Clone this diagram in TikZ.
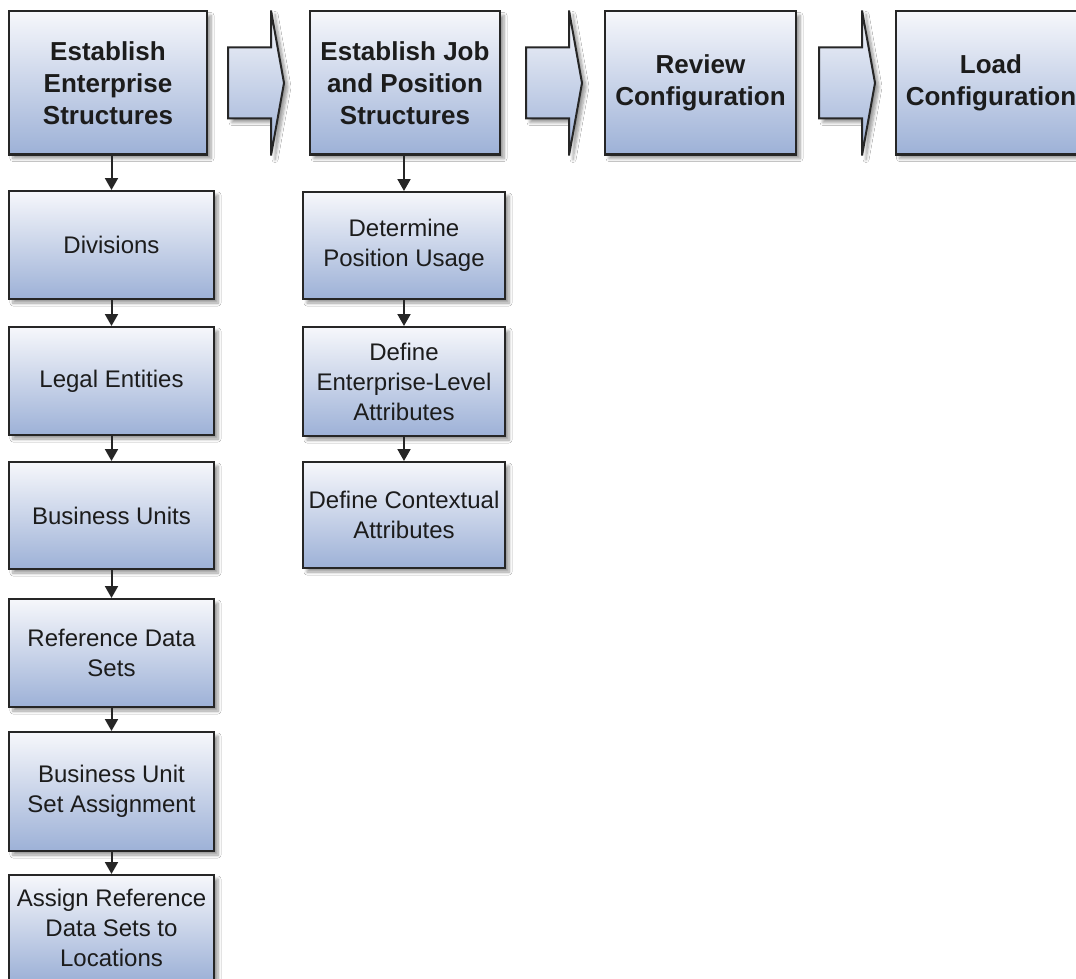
\documentclass[tikz,border=0pt]{standalone}
\usepackage{fontspec}
\setmainfont{Liberation Sans}
\usetikzlibrary{shadows.blur, arrows.meta, calc}
\definecolor{topc}{HTML}{F6F7FB}
\definecolor{botc}{HTML}{9DB1D7}
\definecolor{edge}{HTML}{262626}
\definecolor{txt}{HTML}{1C1C1C}
\tikzset{
  softshadow/.style={blur shadow={shadow xshift=4pt, shadow yshift=-4pt, shadow blur steps=6, shadow blur radius=3pt, shadow opacity=40}},
  box/.style={draw=edge, line width=2pt, top color=topc, bottom color=botc, align=center, text=txt, inner sep=0pt, softshadow},
  topbox/.style={box, font=\fontsize{26}{32}\selectfont\bfseries, minimum height=143pt},
  subbox/.style={box, font=\fontsize{24}{30}\selectfont},
  colA/.style={subbox, minimum width=205pt},
  colB/.style={subbox, minimum width=202pt},
  conn/.style={draw=edge, line width=2pt, -{Triangle[width=13pt,length=12pt]}},
  blockarr/.pic={
    \path[draw=edge, line width=2pt, miter limit=5, top color=topc, bottom color=botc, softshadow]
      (0,-35.5) -- (43,-35.5) -- (43,-72.5) -- (56,0) -- (43,72.5) -- (43,35.5) -- (0,35.5) -- cycle;
  }
}
\begin{document}
\begin{tikzpicture}[x=1pt,y=-1pt]
\useasboundingbox (0,0) rectangle (1076,979);
\fill[white] (0,0) rectangle (1076,979);
\clip (0,0) rectangle (1076,979);

% top row
\node[topbox, minimum width=198pt] (b1) at (108,83) {Establish\\Enterprise\\Structures};
\node[topbox, minimum width=190pt] (b2) at (405,83) {Establish Job\\and Position\\Structures};
\node[topbox, minimum width=191pt] (b3) at (700.5,83) {Review\\Configuration};
\node[topbox, minimum width=191pt] (b4) at (991,83) {Load\\Configuration};

% block arrows between the top boxes
\pic at ($(b1.east)+(20,0)$) {blockarr};
\pic at ($(b2.east)+(25,0)$) {blockarr};
\pic at ($(b3.east)+(22,0)$) {blockarr};

% column 1
\node[colA, minimum height=108pt] (div) at (111.5,245) {Divisions};
\node[colA, minimum height=108pt] (le) at (111.5,381) {Legal Entities};
\node[colA, minimum height=107pt] (bu) at (111.5,515.5) {Business Units};
\node[colA, minimum height=108pt] (rds) at (111.5,653) {Reference Data\\Sets};
\node[colA, minimum height=119pt] (busa) at (111.5,791.5) {Business Unit\\Set Assignment};
\node[colA, minimum height=106pt] (ards) at (111.5,928) {Assign Reference\\Data Sets to\\Locations};

% column 2
\node[colB, minimum height=107pt] (dpu) at (404,245.5) {Determine\\Position Usage};
\node[colB, minimum height=109pt] (del) at (404,381.5) {Define\\Enterprise-Level\\Attributes};
\node[colB, minimum height=106pt] (dca) at (404,515) {Define Contextual\\Attributes};

% connectors
\draw[conn] (div.north |- b1.south) -- (div.north);
\draw[conn] (div) -- (le);
\draw[conn] (le) -- (bu);
\draw[conn] (bu) -- (rds);
\draw[conn] (rds) -- (busa);
\draw[conn] (busa) -- (ards);

\draw[conn] (dpu.north |- b2.south) -- (dpu.north);
\draw[conn] (dpu) -- (del);
\draw[conn] (del) -- (dca);
\end{tikzpicture}
\end{document}
